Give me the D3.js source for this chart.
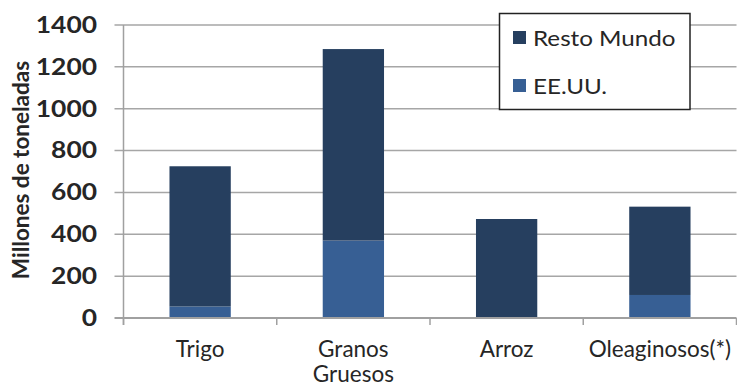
<!DOCTYPE html>
<html><head><meta charset="utf-8">
<script src="https://cdn.jsdelivr.net/npm/d3@7"></script>
<style>body{margin:0;background:#fff}svg{display:block}</style>
</head><body>
<svg id="c" width="737" height="387"></svg>
<script>
const categories = ["Trigo", "Granos Gruesos", "Arroz", "Oleaginosos(*)"];
const eeuu = [55, 370, 3, 110];
const restoMundo = [670, 915, 470, 422];
const yTicks = [0, 200, 400, 600, 800, 1000, 1200, 1400];
const seriesNames = ["Resto Mundo", "EE.UU."];
const yTitle = "Millones de toneladas";

const svg = d3.select("#c");
const X0 = 123.5, X1 = 736.5, Y0 = 318, Y1 = 25;
const font = "Lato, 'Open Sans', sans-serif";
const txt = "#262626";
const cDark = "#263F5F", cLight = "#375F94";

const x = d3.scaleBand().domain(categories).range([X0, X1]).paddingInner(0.6).paddingOuter(0.3);
const y = d3.scaleLinear().domain([0, 1400]).range([Y0, Y1]);

// gridlines
svg.append("g").selectAll("line").data(yTicks.filter(d => d > 0)).join("line")
  .attr("x1", X0 - 9).attr("x2", X1).attr("y1", d => y(d)).attr("y2", d => y(d))
  .attr("stroke", "#a6a6a6").attr("stroke-width", 1.5);

// bars
const data = categories.map((c, i) => ({cat: c, us: eeuu[i], rm: restoMundo[i]}));
const stack = d3.stack().keys(["us", "rm"])(data);
const colors = {us: cLight, rm: cDark};
svg.append("g").selectAll("g").data(stack).join("g").attr("fill", d => colors[d.key])
  .selectAll("rect").data(d => d).join("rect")
  .attr("x", d => x(d.data.cat)).attr("width", x.bandwidth())
  .attr("y", d => y(d[1])).attr("height", d => y(d[0]) - y(d[1]));

// x axis
svg.append("line").attr("x1", X0 - 9).attr("x2", X1).attr("y1", Y0).attr("y2", Y0)
  .attr("stroke", "#a0a0a0").attr("stroke-width", 2);
const step = x.step();
const bounds = d3.range(categories.length + 1).map(i => X0 + i * step);
svg.append("g").selectAll("line").data(bounds).join("line")
  .attr("x1", d => d).attr("x2", d => d).attr("y1", Y0).attr("y2", Y0 + 7)
  .attr("stroke", "#a0a0a0").attr("stroke-width", 1.5);
// y axis
svg.append("line").attr("x1", X0).attr("x2", X0).attr("y1", Y1).attr("y2", Y0 + 7)
  .attr("stroke", "#a0a0a0").attr("stroke-width", 1.5);

// y tick labels (slightly widened to match reference glyph proportions)
svg.append("g").selectAll("text").data(yTicks).join("text")
  .attr("transform", d => `translate(97,${y(d)}) scale(1.2,1)`).attr("dy", "0.36em")
  .attr("text-anchor", "end").attr("font-family", font).attr("font-weight", "bold")
  .attr("font-size", 22).attr("fill", txt).text(d => d);

// x labels
const xl = svg.append("g").selectAll("text").data(categories).join("text")
  .attr("x", d => x(d) + x.bandwidth() / 2).attr("y", 357)
  .attr("text-anchor", "middle").attr("font-family", font).attr("font-size", 22.5).attr("fill", txt);
xl.selectAll("tspan").data(d => d.split(" ").length > 1 && d.indexOf("(") < 0 ? d.split(" ") : [d]).join("tspan")
  .attr("x", function() { return d3.select(this.parentNode).attr("x"); })
  .attr("dy", (d, i) => i === 0 ? 0 : 25).text(d => d);

// y title
svg.append("text").attr("transform", "translate(28.5,170) rotate(-90)")
  .attr("text-anchor", "middle").attr("font-family", font).attr("font-weight", "bold")
  .attr("font-size", 22.5).attr("fill", txt).text(yTitle);

// legend
const lg = svg.append("g");
lg.append("rect").attr("x", 499.5).attr("y", 13.5).attr("width", 190.5).attr("height", 96)
  .attr("fill", "#fff").attr("stroke", "#222").attr("stroke-width", 1.5);
const li = lg.selectAll("g").data(seriesNames).join("g")
  .attr("transform", (d, i) => `translate(513,${31 + i * 48})`);
li.append("rect").attr("width", 13).attr("height", 13).attr("fill", (d, i) => i === 0 ? cDark : cLight);
li.append("text").attr("transform", "translate(20,14.5) scale(1.1,1)")
  .attr("font-family", font).attr("font-size", 22)
  .attr("fill", txt).text(d => d);
</script>
</body></html>
